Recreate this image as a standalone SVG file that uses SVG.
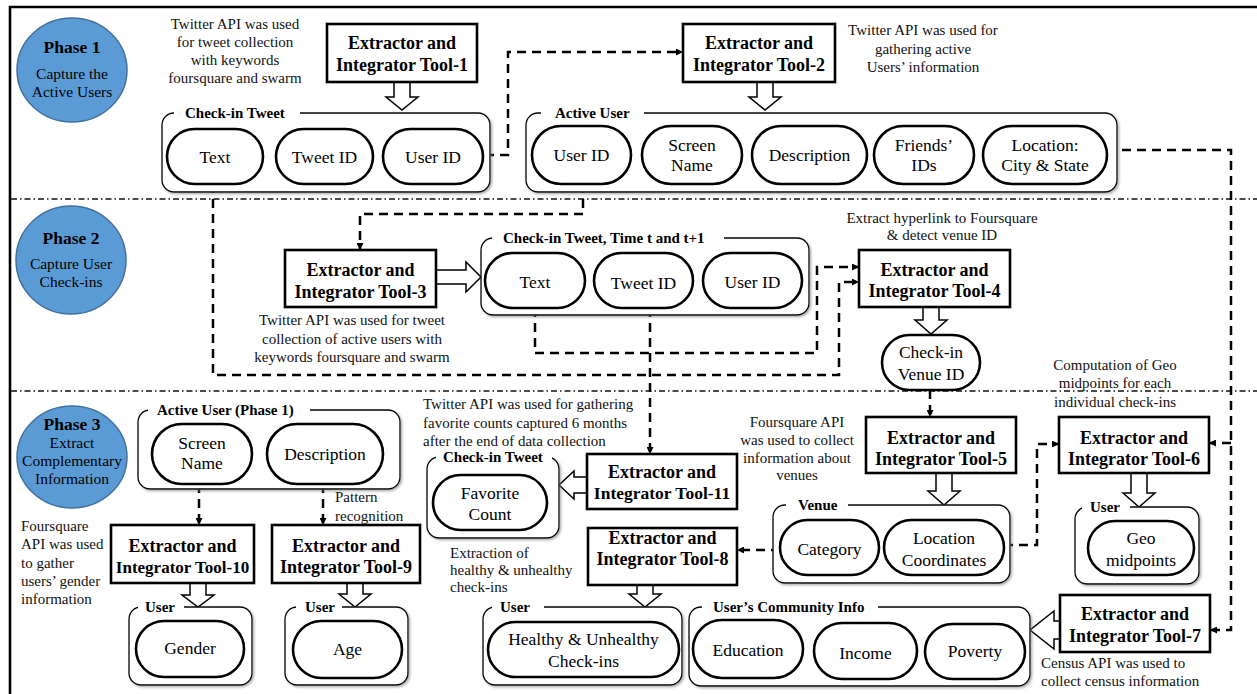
<svg xmlns="http://www.w3.org/2000/svg" width="1257" height="694" viewBox="0 0 1257 694">
<defs>
<filter id="sh" x="-5%" y="-5%" width="115%" height="120%"><feDropShadow dx="1.5" dy="1.5" stdDeviation="1" flood-color="#777" flood-opacity="0.6"/></filter>
<marker id="ah" viewBox="0 0 10 10" refX="10" refY="5" markerWidth="8" markerHeight="7" markerUnits="userSpaceOnUse" orient="auto"><path d="M0,0 L10,5 L0,10 z" fill="#000"/></marker>
</defs>
<style>
text{font-family:"Liberation Serif","Times New Roman",serif;fill:#000}
.tool{fill:#fff;stroke:#000;stroke-width:2.6}
.tt{font-weight:bold;font-size:18px;text-anchor:middle}
.grp{fill:#fff;stroke:#000;stroke-width:1.3;filter:url(#sh)}
.gw{fill:#fff;stroke:none}
.gt{font-weight:bold;font-size:15px}
.pill{fill:#fff;stroke:#000;stroke-width:2.6}
.pt{font-size:17.5px;text-anchor:middle}
.ann{font-size:15px;fill:#111}
.mid{text-anchor:middle}
.conn{fill:none;stroke:#000;stroke-width:2.5;stroke-dasharray:9 6;marker-end:url(#ah)}
.ha{fill:#fff;stroke:#000;stroke-width:1.5}
.div{stroke:#111;stroke-width:1.3;stroke-dasharray:6 3 1.5 3;fill:none}
.ph{fill:#5B9BD5;stroke:#41719C;stroke-width:1.5}
.pht{font-weight:bold;font-size:17.5px;text-anchor:middle}
.phs{font-size:15.5px;text-anchor:middle}
</style>
<rect width="1257" height="694" fill="#fff"/>
<path d="M10,694 V7 H1257" fill="none" stroke="#000" stroke-width="2.6"/>
<path class="div" d="M11,199 H1257 M11,391 H1257"/>

<g id="phase1"><ellipse class="ph" cx="72" cy="70" rx="55" ry="52"/><text class="pht" x="72" y="53">Phase 1</text><text class="phs" x="72" y="79">Capture the</text><text class="phs" x="72" y="97">Active Users</text></g>
<g id="phase2"><ellipse class="ph" cx="71" cy="260" rx="55" ry="54"/><text class="pht" x="71" y="244">Phase 2</text><text class="phs" x="71" y="269">Capture User</text><text class="phs" x="71" y="287">Check-ins</text></g>
<g id="phase3"><ellipse class="ph" cx="72" cy="457" rx="55" ry="51"/><text class="pht" x="72" y="430">Phase 3</text><text class="phs" x="72" y="448">Extract</text><text class="phs" x="72" y="466">Complementary</text><text class="phs" x="72" y="484">Information</text></g>

<g id="annotations">
<text class="ann mid" x="235" y="29">Twitter API was used</text>
<text class="ann mid" x="235" y="47">for tweet collection</text>
<text class="ann mid" x="235" y="65">with keywords</text>
<text class="ann mid" x="235" y="83">foursquare and swarm</text>
<text class="ann mid" x="923" y="35">Twitter API was used for</text>
<text class="ann mid" x="923" y="54">gathering active</text>
<text class="ann mid" x="923" y="72">Users’ information</text>
<text class="ann mid" x="352" y="325">Twitter API was used for tweet</text>
<text class="ann mid" x="352" y="344">collection of active users with</text>
<text class="ann mid" x="352" y="362">keywords foursquare and swarm</text>
<text class="ann mid" x="942" y="223">Extract hyperlink to Foursquare</text>
<text class="ann mid" x="942" y="240">&amp; detect venue ID</text>
<text class="ann mid" x="1115" y="370">Computation of Geo</text>
<text class="ann mid" x="1115" y="388">midpoints for each</text>
<text class="ann mid" x="1115" y="407">individual check-ins</text>
<text class="ann mid" x="797" y="427">Foursquare API</text>
<text class="ann mid" x="797" y="445">was used to collect</text>
<text class="ann mid" x="797" y="463">information about</text>
<text class="ann mid" x="797" y="480">venues</text>
<text class="ann" x="423" y="409">Twitter API was used for gathering</text>
<text class="ann" x="423" y="428">favorite counts captured 6 months</text>
<text class="ann" x="423" y="446">after the end of data collection</text>
<text class="ann" x="450" y="558">Extraction of</text>
<text class="ann" x="450" y="575">healthy &amp; unhealthy</text>
<text class="ann" x="450" y="592">check-ins</text>
<text class="ann" x="21" y="531">Foursquare</text>
<text class="ann" x="21" y="549">API was used</text>
<text class="ann" x="21" y="568">to gather</text>
<text class="ann" x="21" y="586">users’ gender</text>
<text class="ann" x="21" y="604">information</text>
<text class="ann" x="335" y="502">Pattern</text>
<text class="ann" x="335" y="521">recognition</text>
<text class="ann" x="1041" y="668">Census API was used to</text>
<text class="ann" x="1041" y="686">collect census information</text>
</g>

<g id="hollow-arrows">
<path class="ha" d="M394,82 H410 V97 H418 L402,110 L386,97 H394 Z"/>
<path class="ha" d="M757,82 H773 V97 H781 L765,110 L749,97 H757 Z"/>
<path class="ha" d="M923,307 H939 V320 H947 L931,334 L915,320 H923 Z"/>
<path class="ha" d="M190,583 H206 V595 H214 L198,607 L182,595 H190 Z"/>
<path class="ha" d="M347,583 H363 V594 H371 L355,607 L339,594 H347 Z"/>
<path class="ha" d="M637,585 H653 V594 H661 L645,607 L629,594 H637 Z"/>
<path class="ha" d="M936,473 H952 V491 H960 L944,505 L928,491 H936 Z"/>
<path class="ha" d="M1131,473 H1147 V493 H1155 L1139,507 L1123,493 H1131 Z"/>
<path class="ha" d="M436,270 V284 H466 V292 L481,277 L466,262 V270 Z"/>
<path class="ha" d="M587,477 V493 H574 V499 L559,485 L574,471 V477 Z"/>
<path class="ha" d="M1060,621 V639 H1054 V649 L1030,630 L1054,611 V621 Z"/>
</g>

<g id="connectors">
<path class="conn" d="M485,155 H508 V52 H683"/>
<path class="conn" d="M583,184 V214 H360 V250"/>
<path class="conn" d="M213,184 V375 H839 V282 H859"/>
<path class="conn" d="M535,308 V353 H817 V267 H859"/>
<path class="conn" d="M650,308 V454"/>
<path class="conn" d="M1107,150 H1231 V630 H1210"/>
<path class="conn" d="M1231,443 H1209"/>
<path class="conn" d="M930,390 V417"/>
<path class="conn" d="M199,484 V525"/>
<path class="conn" d="M323,484 V525"/>
<path class="conn" d="M1004,545 H1037 V444 H1059"/>
<path class="conn" d="M780,550 H737"/>
</g>

<g id="tool1"><rect class="tool" x="327" y="24" width="150" height="58"/><text class="tt" x="402" y="49">Extractor and</text><text class="tt" x="402" y="71">Integrator Tool-1</text></g>
<g id="tool2"><rect class="tool" x="683" y="24" width="152" height="58"/><text class="tt" x="759" y="49">Extractor and</text><text class="tt" x="759" y="71">Integrator Tool-2</text></g>
<g id="tool3"><rect class="tool" x="285" y="250" width="151" height="57"/><text class="tt" x="360.5" y="276">Extractor and</text><text class="tt" x="360.5" y="298">Integrator Tool-3</text></g>
<g id="tool4"><rect class="tool" x="859" y="250" width="151" height="57"/><text class="tt" x="934.5" y="276">Extractor and</text><text class="tt" x="934.5" y="297">Integrator Tool-4</text></g>
<g id="tool5"><rect class="tool" x="866" y="417" width="150" height="56"/><text class="tt" x="941" y="444">Extractor and</text><text class="tt" x="941" y="465">Integrator Tool-5</text></g>
<g id="tool6"><rect class="tool" x="1059" y="417" width="150" height="56"/><text class="tt" x="1134" y="444">Extractor and</text><text class="tt" x="1134" y="465">Integrator Tool-6</text></g>
<g id="tool7"><rect class="tool" x="1060" y="595" width="150" height="57"/><text class="tt" x="1135" y="620">Extractor and</text><text class="tt" x="1135" y="642">Integrator Tool-7</text></g>
<g id="tool8"><rect class="tool" x="588" y="528" width="149" height="57"/><text class="tt" x="662.5" y="544">Extractor and</text><text class="tt" x="662.5" y="565">Integrator Tool-8</text></g>
<g id="tool9"><rect class="tool" x="272" y="525" width="148" height="58"/><text class="tt" x="346" y="552">Extractor and</text><text class="tt" x="346" y="573">Integrator Tool-9</text></g>
<g id="tool10"><rect class="tool" x="111" y="525" width="143" height="58"/><text class="tt" x="182.5" y="552">Extractor and</text><text class="tt" x="182.5" y="573" style="font-size:17px">Integrator Tool-10</text></g>
<g id="tool11"><rect class="tool" x="587" y="454" width="150" height="55"/><text class="tt" x="662" y="478">Extractor and</text><text class="tt" x="662" y="499" style="font-size:17.5px">Integrator Tool-11</text></g>

<g id="checkin-tweet-p1">
<rect class="grp" x="162" y="113" width="328" height="79" rx="12"/>
<rect class="gw" x="174" y="108" width="126" height="10"/>
<text class="gt" x="185" y="118">Check-in Tweet</text>
<rect class="pill" x="167" y="129" width="96" height="55" rx="27.5"/><text class="pt" x="215" y="163">Text</text>
<rect class="pill" x="276" y="129" width="97" height="55" rx="27.5"/><text class="pt" x="324.5" y="163">Tweet ID</text>
<rect class="pill" x="383" y="129" width="100" height="55" rx="27.5"/><text class="pt" x="433" y="163">User ID</text>
</g>

<g id="active-user-p1">
<rect class="grp" x="526" y="113" width="591" height="79" rx="12"/>
<rect class="gw" x="541" y="108" width="103" height="10"/>
<text class="gt" x="555" y="118">Active User</text>
<rect class="pill" x="532" y="126" width="99" height="58" rx="29"/><text class="pt" x="581.5" y="161">User ID</text>
<rect class="pill" x="642" y="126" width="100" height="58" rx="29"/><text class="pt" x="692" y="151">Screen</text><text class="pt" x="692" y="171">Name</text>
<rect class="pill" x="752" y="126" width="115" height="58" rx="29"/><text class="pt" x="809.5" y="161">Description</text>
<rect class="pill" x="874" y="126" width="100" height="58" rx="29"/><text class="pt" x="924" y="151">Friends’</text><text class="pt" x="924" y="171">IDs</text>
<rect class="pill" x="983" y="126" width="124" height="58" rx="29"/><text class="pt" x="1045" y="151">Location:</text><text class="pt" x="1045" y="171">City &amp; State</text>
</g>

<g id="checkin-tweet-p2">
<rect class="grp" x="481" y="238" width="328" height="77" rx="12"/>
<rect class="gw" x="492" y="233" width="232" height="10"/>
<text class="gt" x="503" y="243">Check-in Tweet, Time t and t+1</text>
<rect class="pill" x="485" y="253" width="100" height="55" rx="27.5"/><text class="pt" x="535" y="288">Text</text>
<rect class="pill" x="594" y="253" width="99" height="55" rx="27.5"/><text class="pt" x="643.5" y="289">Tweet ID</text>
<rect class="pill" x="703" y="253" width="99" height="55" rx="27.5"/><text class="pt" x="752.5" y="288">User ID</text>
</g>

<g id="venue-id"><rect class="pill" x="882" y="335" width="98" height="55" rx="27.5"/><text class="pt" x="931" y="358">Check-in</text><text class="pt" x="931" y="380">Venue ID</text></g>

<g id="active-user-p3">
<rect class="grp" x="138" y="410" width="262" height="79" rx="12"/>
<rect class="gw" x="148" y="405" width="162" height="10"/>
<text class="gt" x="157" y="415">Active User (Phase 1)</text>
<rect class="pill" x="152" y="424" width="100" height="60" rx="30"/><text class="pt" x="202" y="449">Screen</text><text class="pt" x="202" y="469">Name</text>
<rect class="pill" x="267" y="424" width="116" height="60" rx="30"/><text class="pt" x="325" y="460">Description</text>
</g>

<g id="user-gender">
<rect class="grp" x="129" y="607" width="123" height="78" rx="12"/>
<rect class="gw" x="138" y="602" width="46" height="10"/>
<text class="gt" x="145" y="612">User</text>
<rect class="pill" x="136" y="621" width="108" height="56" rx="28"/><text class="pt" x="190" y="654">Gender</text>
</g>

<g id="user-age">
<rect class="grp" x="285" y="607" width="123" height="78" rx="12"/>
<rect class="gw" x="296" y="602" width="46" height="10"/>
<text class="gt" x="305" y="612">User</text>
<rect class="pill" x="293" y="621" width="109" height="57" rx="28.5"/><text class="pt" x="347.5" y="655">Age</text>
</g>

<g id="checkin-tweet-fav">
<rect class="grp" x="427" y="457" width="132" height="81" rx="12"/>
<rect class="gw" x="436" y="452" width="116" height="10"/>
<text class="gt" x="443" y="462">Check-in Tweet</text>
<rect class="pill" x="433" y="475" width="114" height="55" rx="27.5"/><text class="pt" x="490" y="499">Favorite</text><text class="pt" x="490" y="520">Count</text>
</g>

<g id="user-healthy">
<rect class="grp" x="483" y="607" width="199" height="78" rx="12"/>
<rect class="gw" x="492" y="602" width="52" height="10"/>
<text class="gt" x="500" y="612">User</text>
<rect class="pill" x="488" y="622" width="191" height="55" rx="27.5"/><text class="pt" x="583.5" y="645">Healthy &amp; Unhealthy</text><text class="pt" x="583.5" y="667">Check-ins</text>
</g>

<g id="community-info">
<rect class="grp" x="689" y="607" width="341" height="79" rx="12"/>
<rect class="gw" x="702" y="602" width="176" height="10"/>
<text class="gt" x="713" y="612">User’s Community Info</text>
<rect class="pill" x="693" y="620" width="110" height="58" rx="29"/><text class="pt" x="748" y="656">Education</text>
<rect class="pill" x="814" y="623" width="103" height="56" rx="28"/><text class="pt" x="865.5" y="659">Income</text>
<rect class="pill" x="925" y="624" width="100" height="55" rx="27.5"/><text class="pt" x="975" y="657">Poverty</text>
</g>

<g id="venue">
<rect class="grp" x="773" y="505" width="237" height="78" rx="12"/>
<rect class="gw" x="786" y="500" width="62" height="10"/>
<text class="gt" x="798" y="510">Venue</text>
<rect class="pill" x="780" y="520" width="99" height="55" rx="27.5"/><text class="pt" x="829.5" y="555">Category</text>
<rect class="pill" x="884" y="520" width="120" height="55" rx="27.5"/><text class="pt" x="944" y="544">Location</text><text class="pt" x="944" y="566">Coordinates</text>
</g>

<g id="user-geo">
<rect class="grp" x="1075" y="507" width="124" height="77" rx="12"/>
<rect class="gw" x="1082" y="502" width="48" height="10"/>
<text class="gt" x="1090" y="512">User</text>
<rect class="pill" x="1088" y="521" width="106" height="54" rx="27"/><text class="pt" x="1141" y="544">Geo</text><text class="pt" x="1141" y="566">midpoints</text>
</g>
</svg>
